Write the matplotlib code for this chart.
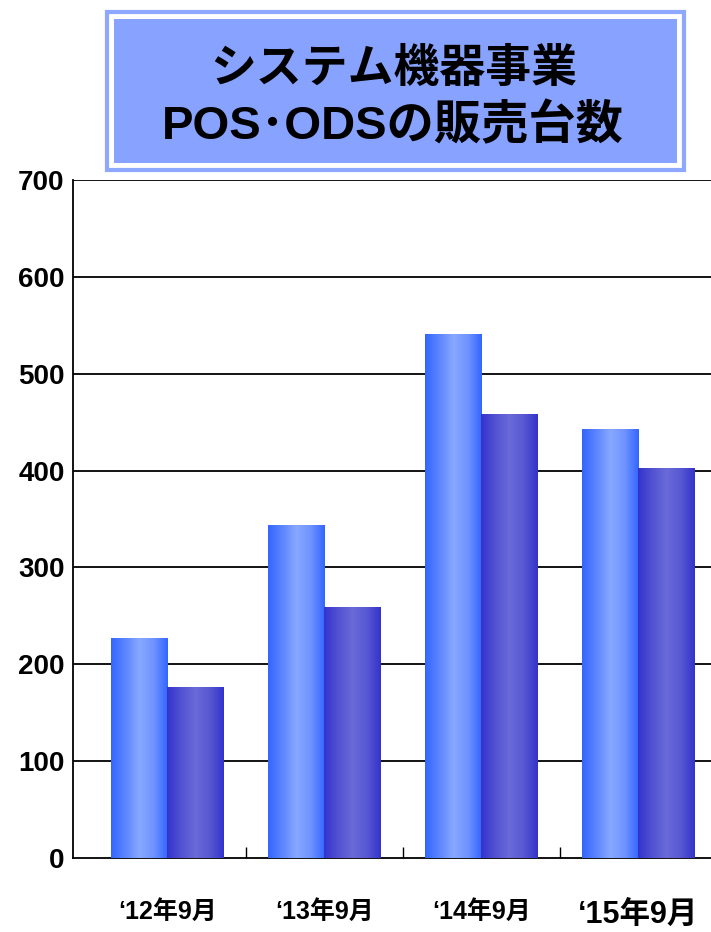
import numpy as np
import matplotlib
matplotlib.use("Agg")
import matplotlib.pyplot as plt
from matplotlib.colors import LinearSegmentedColormap
from matplotlib.patches import Rectangle

# ---- data ----
categories = ["‘12年9月", "‘13年9月", "‘14年9月", "‘15年9月"]
pos_units = [227, 343, 541, 442]
ods_units = [176, 259, 458, 402]
yticks = [0, 100, 200, 300, 400, 500, 600, 700]

plt.rcParams['font.family'] = ['Noto Sans CJK JP', 'DejaVu Sans']
narrow = ['Liberation Sans Narrow', 'Liberation Sans', 'Noto Sans CJK JP']

fig = plt.figure(figsize=(7.11, 9.32), dpi=100)
ax = fig.add_axes([73 / 711, 1 - 858 / 932, 1 - 73 / 711, (858 - 180) / 932])

# gradient colormaps (edge -> centre -> edge)
blue_cm = LinearSegmentedColormap.from_list(
    "blue", ["#3366FF", "#5C85FF", "#88A8FF", "#6F93FF", "#3366FF"])
purple_cm = LinearSegmentedColormap.from_list(
    "purple", ["#3333CC", "#5252D2", "#6A6AD8", "#5858D2", "#3333CC"])
grad = np.linspace(0, 1, 256).reshape(1, -1)

width = 0.357
x = np.arange(len(categories))

def grad_bar(x0, h, cm):
    ax.imshow(grad, extent=[x0, x0 + width, 0, h], aspect='auto', cmap=cm,
              zorder=3, interpolation='bilinear')

for i in x:
    grad_bar(i - width, pos_units[i], blue_cm)
    grad_bar(i, ods_units[i], purple_cm)

ax.set_xlim(-0.6, 3.464)
ax.set_ylim(0, 700)

# gridlines
for v in yticks[1:]:
    ax.axhline(v, color='black', lw=1.3, zorder=1)

for s in ['top', 'right']:
    ax.spines[s].set_visible(False)
ax.spines['left'].set_linewidth(1.3)
ax.spines['bottom'].set_linewidth(1.3)

ax.set_yticks(yticks)
ax.set_yticklabels([str(v) for v in yticks], fontsize=20, fontweight='bold',
                   family=narrow)
ax.tick_params(axis='y', length=0, pad=6)

ax.set_xticks(x)
ax.set_xticklabels(categories, fontsize=18, fontweight='bold', family=narrow)
ax.tick_params(axis='x', which='major', length=0, pad=30)
ax.set_xticks([0.5, 1.5, 2.5], minor=True)
ax.tick_params(axis='x', which='minor', direction='in', length=8, width=1)
last = ax.get_xticklabels()[-1]
last.set_fontsize(22)

# title box
fig.patches.append(Rectangle((107 / 711, 1 - 170 / 932), 577 / 711, 158 / 932,
                             transform=fig.transFigure, facecolor='white',
                             edgecolor='#8FA8FF', lw=3))
fig.patches.append(Rectangle((114 / 711, 1 - 163 / 932), 563 / 711, 144 / 932,
                             transform=fig.transFigure, facecolor='#87A3FF',
                             edgecolor='none'))
title_font = ['Liberation Sans', 'Noto Sans CJK JP']
fig.text(394 / 711, 1 - 70 / 932, "システム機器事業", ha='center', va='center',
         fontsize=33, fontweight='bold', color='black', family=title_font)
fig.text(393 / 711, 1 - 127 / 932, "POS･ODSの販売台数", ha='center', va='center',
         fontsize=34, fontweight='bold', color='black', family=title_font)

fig.savefig("out.png", dpi=100)
